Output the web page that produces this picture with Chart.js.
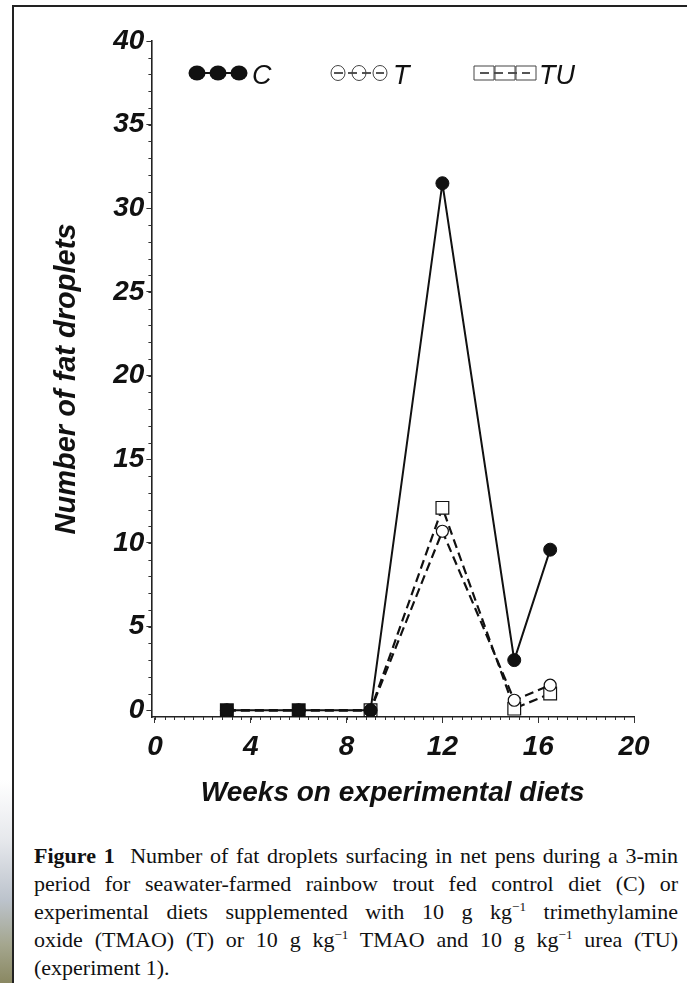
<!DOCTYPE html>
<html>
<head>
<meta charset="utf-8">
<script src="https://cdn.jsdelivr.net/npm/chart.js@4.4.1/dist/chart.umd.min.js"></script>
<style>
  html, body { margin: 0; padding: 0; background: #fff; }
  #seite { position: relative; width: 687px; height: 983px; overflow: hidden; background: #fff; }
  #streifen {
    position: absolute; left: 0; top: 0; width: 12px; height: 983px;
    background: linear-gradient(to bottom, #fff 0px, #fff 780px, #e6e8ec 840px, #bcc3cc 900px, #a4a68e 945px, #8a8862 983px);
  }
  #rahmen { position: absolute; left: 12px; top: 5px; width: 700px; height: 1000px; border-left: 2px solid #222; border-top: 2px solid #222; }
  #diagramm { position: absolute; left: 0; top: 0; }
  .zeile {
    position: absolute; left: 34px; width: 644px;
    font-family: "Liberation Serif", "Times New Roman", serif; font-size: 22px; line-height: 28px; color: #111;
    text-align: justify; text-align-last: justify;
  }
  .zeile.letzte { text-align-last: left; }
  sup { font-size: 0.6em; line-height: 0; vertical-align: 0.6em; }
</style>
</head>
<body>
<div id="seite">
  <div id="streifen"></div>
  <div id="rahmen"></div>
  <canvas id="diagramm" width="687" height="830"></canvas>
  <div class="zeile" style="top:842px"><b>Figure 1</b>&nbsp; Number of fat droplets surfacing in net pens during a 3-min</div>
  <div class="zeile" style="top:870px">period for seawater-farmed rainbow trout fed control diet (C) or</div>
  <div class="zeile" style="top:898px">experimental diets supplemented with 10 g kg<sup>−1</sup> trimethylamine</div>
  <div class="zeile" style="top:926px">oxide (TMAO) (T) or 10 g kg<sup>−1</sup> TMAO and 10 g kg<sup>−1</sup> urea (TU)</div>
  <div class="zeile letzte" style="top:954px">(experiment 1).</div>
</div>
<script>
// Daten
const wochen = [3, 6, 9, 12, 15, 16.5];
const werteC = [0, 0, 0, 31.5, 3.0, 9.6];
const werteT = [0, 0, 0, 10.7, 0.6, 1.5];
const werteTU = [0, 0, 0, 12.1, 0.1, 1.0];
const serienNamen = ["C", "T", "TU"];

// Achsenbeschriftung
const xTickWerte = [0, 4, 8, 12, 16, 20];
const yTickWerte = [0, 5, 10, 15, 20, 25, 30, 35, 40];
const xNebenSchritt = 0.4;
const yNebenSchritt = 1;
const xTitel = "Weeks on experimental diets";
const yTitel = "Number of fat droplets";

const schwarz = "#111";
const schrift = "'Liberation Sans', Arial, sans-serif";
Chart.defaults.font.family = schrift;
Chart.defaults.color = schwarz;

function punkte(werte) {
  return wochen.map((w, i) => ({ x: w, y: werte[i] }));
}

// kleine Zwischenstriche an beiden Achsen
const nebenStriche = {
  id: "nebenStriche",
  afterDraw(chart) {
    const ctx = chart.ctx;
    const xs = chart.scales.x;
    const ys = chart.scales.y;
    ctx.save();
    ctx.strokeStyle = "#333";
    ctx.lineWidth = 1;
    ctx.beginPath();
    const nY = Math.round(yTickWerte[yTickWerte.length - 1] / yNebenSchritt);
    for (let k = 0; k <= nY; k++) {
      const py = Math.round(ys.getPixelForValue(k * yNebenSchritt)) + 0.5;
      ctx.moveTo(ys.right - 3, py);
      ctx.lineTo(ys.right, py);
    }
    const nX = Math.round(xTickWerte[xTickWerte.length - 1] / xNebenSchritt);
    for (let k = 0; k <= nX; k++) {
      const px = Math.round(xs.getPixelForValue(k * xNebenSchritt)) + 0.5;
      ctx.moveTo(px, xs.top);
      ctx.lineTo(px, xs.top + 3);
    }
    ctx.stroke();
    ctx.restore();
  },
};

// Legende oben: drei Symbole auf der Linie, dann der Name
const legende = {
  id: "legende",
  afterDraw(chart) {
    const ctx = chart.ctx;
    const startX = [197, 338, 484];
    const y = 73;
    chart.data.datasets.forEach((ds, i) => {
      const x0 = startX[i];
      ctx.save();
      ctx.strokeStyle = i === 0 ? schwarz : "#555";
      ctx.lineWidth = 2;
      ctx.setLineDash(ds.borderDash || []);
      ctx.beginPath();
      ctx.moveTo(x0 - 4, y);
      ctx.lineTo(x0 + 46, y);
      ctx.stroke();
      ctx.setLineDash([]);
      for (let k = 0; k < 3; k++) {
        const mx = x0 + 21 * k;
        ctx.beginPath();
        if (ds.pointStyle === "rect") {
          ctx.rect(mx - 10, y - 7, 20, 14);
        } else {
          ctx.ellipse(mx, y, i === 0 ? 8.5 : 7, 7.5, 0, 0, Math.PI * 2);
        }
        if (i === 0) {
          ctx.fillStyle = schwarz;
          ctx.fill();
        } else {
          ctx.lineWidth = 1;
          ctx.strokeStyle = "#444";
          ctx.stroke();
        }
      }
      ctx.fillStyle = schwarz;
      ctx.font = "italic 27px " + schrift;
      ctx.textBaseline = "middle";
      ctx.fillText(ds.label, x0 + 55, y + 3);
      ctx.restore();
    });
  },
};

const ctx = document.getElementById("diagramm").getContext("2d");
const diagramm = new Chart(ctx, {
  type: "line",
  data: {
    datasets: [
      {
        label: serienNamen[0],
        data: punkte(werteC),
        borderColor: schwarz,
        borderWidth: 2,
        pointStyle: "circle",
        pointRadius: 6.5,
        pointBackgroundColor: schwarz,
        pointBorderColor: schwarz,
        pointBorderWidth: 1,
      },
      {
        label: serienNamen[1],
        data: punkte(werteT),
        borderColor: schwarz,
        borderWidth: 2.2,
        borderDash: [9, 5],
        pointStyle: "circle",
        pointRadius: 6,
        pointBackgroundColor: "#fff",
        pointBorderColor: schwarz,
        pointBorderWidth: 1.2,
      },
      {
        label: serienNamen[2],
        data: punkte(werteTU),
        borderColor: schwarz,
        borderWidth: 2.2,
        borderDash: [9, 5],
        pointStyle: "rect",
        pointRadius: 9,
        pointBackgroundColor: (c) => (c.dataIndex < 2 ? schwarz : "#fff"),
        pointBorderColor: schwarz,
        pointBorderWidth: 1.2,
      },
    ],
  },
  options: {
    responsive: false,
    animation: false,
    layout: {
      padding: { top: 41, left: 0, right: 53, bottom: 0 },
    },
    plugins: {
      legend: { display: false },
      tooltip: { enabled: false },
    },
    scales: {
      x: {
        type: "linear",
        min: -0.15,
        max: 20,
        afterBuildTicks(scale) {
          scale.ticks = xTickWerte.map((v) => ({ value: v }));
        },
        afterFit(scale) {
          scale.height = 113;
        },
        grid: { drawOnChartArea: false, tickLength: 6, color: "#333", tickWidth: 1 },
        border: { color: "#222", width: 1.6 },
        ticks: {
          padding: 7,
          maxRotation: 0,
          font: { size: 28, style: "italic", weight: "bold" },
        },
        title: {
          display: true,
          text: xTitel,
          font: { size: 28, style: "italic", weight: "bold" },
          padding: { top: 0, bottom: 20 },
        },
      },
      y: {
        type: "linear",
        min: -0.4,
        max: 40,
        afterBuildTicks(scale) {
          scale.ticks = yTickWerte.map((v) => ({ value: v }));
        },
        afterFit(scale) {
          scale.width = 151.4;
        },
        grid: { drawOnChartArea: false, tickLength: 5, color: "#333", tickWidth: 1 },
        border: { color: "#222", width: 1.6 },
        ticks: {
          padding: 2,
          font: { size: 28, style: "italic", weight: "bold" },
        },
        title: {
          display: true,
          text: yTitel,
          font: { size: 29, style: "italic", weight: "bold" },
          padding: { top: 50, bottom: 0 },
        },
      },
    },
  },
  plugins: [nebenStriche, legende],
});
</script>
</body>
</html>
